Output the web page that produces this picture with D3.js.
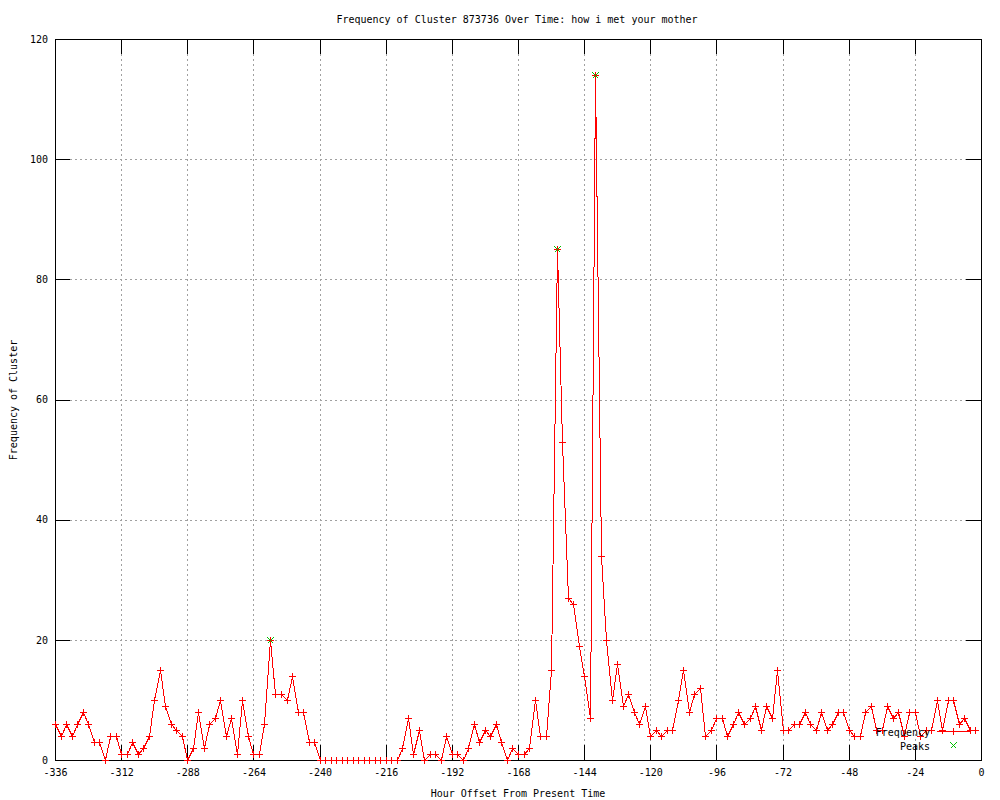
<!DOCTYPE html>
<html>
<head>
<meta charset="utf-8">
<script src="https://cdn.jsdelivr.net/npm/d3@7"></script>
<style>
  body { margin: 0; background: #fff; }
  text { font-family: "DejaVu Sans Mono", "Liberation Mono", monospace; font-size: 10px; fill: #000; }
</style>
</head>
<body>
<div id="chart"></div>
<script>
// Data: one value every 2 hours, from -336 to -2
const hours = d3.range(-336, 0, 2);
const frequency = [
    6, 4, 6, 4, 6, 8, 6, 3, 3, 0,
    4, 4, 1, 1, 3, 1, 2, 4, 10, 15,
    9, 6, 5, 4, 0, 2, 8, 2, 6, 7,
    10, 4, 7, 1, 10, 4, 1, 1, 6, 20,
    11, 11, 10, 14, 8, 8, 3, 3, 0, 0,
    0, 0, 0, 0, 0, 0, 0, 0, 0, 0,
    0, 0, 0, 2, 7, 1, 5, 0, 1, 1,
    0, 4, 1, 1, 0, 2, 6, 3, 5, 4,
    6, 3, 0, 2, 1, 1, 2, 10, 4, 4,
    15, 85, 53, 27, 26, 19, 14, 7, 114, 34,
    20, 10, 16, 9, 11, 8, 6, 9, 4, 5,
    4, 5, 5, 10, 15, 8, 11, 12, 4, 5,
    7, 7, 4, 6, 8, 6, 7, 9, 5, 9,
    7, 15, 5, 5, 6, 6, 8, 6, 5, 8,
    5, 6, 8, 8, 5, 4, 4, 8, 9, 5,
    5, 9, 7, 8, 4, 8, 8, 4, 5, 5,
    10, 5, 10, 10, 6, 7, 5, 5
];
const peakHours = [-258, -154, -140];
const peakValues = [20, 85, 114];

const xTicks = d3.range(-336, 1, 24);
const yTicks = [0, 20, 40, 60, 80, 100, 120];

const titleText = "Frequency of Cluster 873736 Over Time: how i met your mother";
const xLabel = "Hour Offset From Present Time";
const yLabel = "Frequency of Cluster";
const seriesNames = ["Frequency", "Peaks"];

// Layout
const width = 1000;
const height = 800;
const plotLeft = 55, plotRight = 981, plotTop = 39, plotBottom = 760;
const tickLen = 15;

const svg = d3.select("#chart")
    .append("svg")
    .attr("width", width)
    .attr("height", height);

const x = d3.scaleLinear().domain([-336, 0]).range([plotLeft, plotRight]);
const y = d3.scaleLinear().domain([0, 120]).range([plotBottom, plotTop]);

const px = v => Math.round(x(v)) + 0.5;
const py = v => Math.round(y(v)) + 0.5;

// Grid (dotted, inner ticks only)
const grid = svg.append("g")
    .attr("stroke", "#a0a0a0")
    .attr("stroke-dasharray", "2,3")
    .attr("shape-rendering", "crispEdges");

grid.selectAll(".gx")
    .data(xTicks.slice(1, -1))
    .enter()
    .append("line")
    .attr("x1", d => px(d)).attr("x2", d => px(d))
    .attr("y1", plotTop).attr("y2", plotBottom);

grid.selectAll(".gy")
    .data(yTicks.slice(1, -1))
    .enter()
    .append("line")
    .attr("x1", plotLeft).attr("x2", plotRight)
    .attr("y1", d => py(d)).attr("y2", d => py(d));

// Axes with inward ticks, mirrored on top and right
function styleAxis(g) {
    g.select(".domain").remove();
    g.selectAll("line").attr("stroke", "#000").attr("shape-rendering", "crispEdges");
    g.selectAll("text")
        .style("font-family", "\"DejaVu Sans Mono\", monospace")
        .style("font-size", "10px")
        .attr("fill", "#000");
}

svg.append("g")
    .attr("transform", `translate(0,${plotBottom})`)
    .call(d3.axisBottom(x).tickValues(xTicks).tickSizeInner(-tickLen).tickSizeOuter(0)
        .tickPadding(9).tickFormat(d => String(d)))
    .call(styleAxis);

svg.append("g")
    .attr("transform", `translate(0,${plotTop})`)
    .call(d3.axisTop(x).tickValues(xTicks).tickSizeInner(-tickLen).tickSizeOuter(0).tickFormat(""))
    .call(styleAxis);

svg.append("g")
    .attr("transform", `translate(${plotLeft},0)`)
    .call(d3.axisLeft(y).tickValues(yTicks).tickSizeInner(-tickLen).tickSizeOuter(0)
        .tickPadding(7).tickFormat(d => String(d)))
    .call(styleAxis);

svg.append("g")
    .attr("transform", `translate(${plotRight},0)`)
    .call(d3.axisRight(y).tickValues(yTicks).tickSizeInner(-tickLen).tickSizeOuter(0).tickFormat(""))
    .call(styleAxis);

// Border
svg.append("rect")
    .attr("x", plotLeft + 0.5)
    .attr("y", plotTop + 0.5)
    .attr("width", plotRight - plotLeft)
    .attr("height", plotBottom - plotTop)
    .attr("fill", "none")
    .attr("stroke", "#000")
    .attr("shape-rendering", "crispEdges");

// Frequency line with + markers
const series = hours.map((h, i) => ({ h: h, v: frequency[i] }));

const line = d3.line()
    .x(d => px(d.h))
    .y(d => py(d.v));

svg.append("path")
    .datum(series)
    .attr("d", line)
    .attr("fill", "none")
    .attr("stroke", "#ff0000")
    .attr("stroke-width", 1)
    .attr("shape-rendering", "crispEdges");

const plusPath = "M-3.5,0H3.5M0,-3.5V3.5";
const crossPath = "M-3,-3L3,3M3,-3L-3,3";

svg.append("g")
    .selectAll("path")
    .data(series)
    .enter()
    .append("path")
    .attr("transform", d => `translate(${px(d.h)},${py(d.v)})`)
    .attr("d", plusPath)
    .attr("stroke", "#ff0000")
    .attr("fill", "none")
    .attr("shape-rendering", "crispEdges");

// Peaks
const peaks = peakHours.map((h, i) => ({ h: h, v: peakValues[i] }));

svg.append("g")
    .selectAll("path")
    .data(peaks)
    .enter()
    .append("path")
    .attr("transform", d => `translate(${px(d.h)},${py(d.v)})`)
    .attr("d", crossPath)
    .attr("stroke", "#00c000")
    .attr("fill", "none")
    .attr("shape-rendering", "crispEdges");

// Legend
const legend = svg.append("g");

legend.append("text")
    .attr("x", 930)
    .attr("y", 732)
    .attr("dy", "0.35em")
    .attr("text-anchor", "end")
    .text(seriesNames[0]);

legend.append("line")
    .attr("x1", 937).attr("x2", 970)
    .attr("y1", 731.5).attr("y2", 731.5)
    .attr("stroke", "#ff0000")
    .attr("shape-rendering", "crispEdges");

legend.append("path")
    .attr("transform", "translate(953.5,731.5)")
    .attr("d", plusPath)
    .attr("stroke", "#ff0000")
    .attr("shape-rendering", "crispEdges");

legend.append("text")
    .attr("x", 930)
    .attr("y", 746)
    .attr("dy", "0.35em")
    .attr("text-anchor", "end")
    .text(seriesNames[1]);

legend.append("path")
    .attr("transform", "translate(953.5,745.5)")
    .attr("d", crossPath)
    .attr("stroke", "#00c000")
    .attr("shape-rendering", "crispEdges");

// Titles
svg.append("text")
    .attr("x", 517)
    .attr("y", 19)
    .attr("dy", "0.35em")
    .attr("text-anchor", "middle")
    .text(titleText);

svg.append("text")
    .attr("x", 518)
    .attr("y", 793)
    .attr("dy", "0.35em")
    .attr("text-anchor", "middle")
    .text(xLabel);

svg.append("text")
    .attr("transform", "translate(13,400) rotate(-90)")
    .attr("dy", "0.35em")
    .attr("text-anchor", "middle")
    .text(yLabel);
</script>
</body>
</html>
